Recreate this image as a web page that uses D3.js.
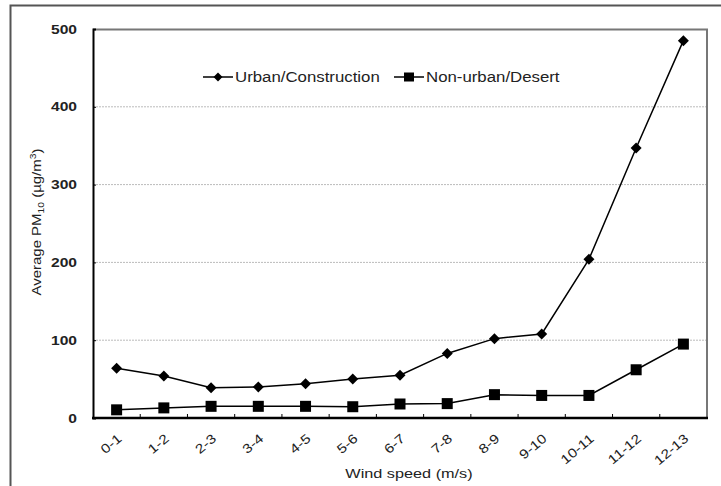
<!DOCTYPE html>
<html>
<head>
<meta charset="utf-8">
<script src="https://cdn.jsdelivr.net/npm/d3@7"></script>
<style>
  body { margin: 0; background: #fff; }
  svg { font-family: "Liberation Sans", Arial, sans-serif; }
</style>
</head>
<body>
<svg id="chart" width="721" height="486"></svg>
<script>
const categories = ['0-1', '1-2', '2-3', '3-4', '4-5', '5-6', '6-7', '7-8', '8-9', '9-10', '10-11', '11-12', '12-13'];
const urbanValues = [64, 54, 39, 40, 44, 50, 55, 83, 102, 108, 204, 347, 485];
const desertValues = [10.5, 13, 15, 15, 15, 14.5, 18, 18.5, 30, 29, 29, 62, 95];
const yTicks = [0, 100, 200, 300, 400, 500];

const svg = d3.select('#chart');
const margin = { top: 29, right: 14, bottom: 68, left: 93 };
const width = 721 - margin.left - margin.right;
const height = 486 - margin.top - margin.bottom;

// the source font is wider than Arial, stretch text a bit
const stretch = (sel, k) => sel.each(function () {
  const len = this.getComputedTextLength();
  d3.select(this).attr('textLength', len * k).attr('lengthAdjust', 'spacingAndGlyphs');
});

// outer frame (cut off at the right and bottom)
svg.append('path')
  .attr('d', 'M10.5,490 L10.5,5.5 L730,5.5')
  .attr('fill', 'none')
  .attr('stroke', '#555')
  .attr('stroke-width', 2);

const g = svg.append('g').attr('transform', `translate(${margin.left},${margin.top})`);

const x = d3.scaleBand().domain(categories).range([0, width]);
const y = d3.scaleLinear().domain([0, 500]).range([height, 0]);
const cx = d => x(d) + x.bandwidth() / 2;

// gridlines
g.selectAll('.grid').data(yTicks.filter(d => d > 0 && d < 500)).enter().append('line')
  .attr('x1', 0).attr('x2', width)
  .attr('y1', d => y(d)).attr('y2', d => y(d))
  .attr('stroke', '#bbb')
  .attr('stroke-dasharray', '2,1');

// top and right border
g.append('path')
  .attr('d', `M0,0.5 L${width},0.5 L${width},${height}`)
  .attr('fill', 'none')
  .attr('stroke', '#777')
  .attr('stroke-width', 2);

// y axis
const gy = g.append('g')
  .call(d3.axisLeft(y).tickValues(yTicks).tickSize(-3).tickPadding(16));
gy.select('.domain').attr('stroke', '#000').attr('stroke-width', 2);
gy.selectAll('.tick line').attr('stroke', '#000');
gy.selectAll('text').attr('font-size', 13).attr('font-weight', 'bold').attr('fill', '#222')
  .call(stretch, 1.2);

// x axis: ticks between categories, pointing inward
const gx = g.append('g').attr('transform', `translate(0,${height})`);
gx.append('line')
  .attr('x1', -1).attr('x2', width + 1)
  .attr('stroke', '#000').attr('stroke-width', 2.5);
gx.selectAll('.xt').data(categories.slice(1)).enter().append('line')
  .attr('x1', d => x(d)).attr('x2', d => x(d))
  .attr('y1', 0).attr('y2', -4)
  .attr('stroke', '#000');
gx.selectAll('.xl').data(categories).enter().append('text')
  .attr('transform', d => `translate(${cx(d) + 6},${22}) rotate(-40)`)
  .attr('text-anchor', 'end')
  .attr('font-size', 13)
  .attr('fill', '#222')
  .text(d => d)
  .call(stretch, 1.2);

// lines
const line = d3.line().x((d, i) => cx(categories[i])).y(d => y(d));
g.append('path').datum(urbanValues)
  .attr('d', line).attr('fill', 'none').attr('stroke', '#000').attr('stroke-width', 1.5);
g.append('path').datum(desertValues)
  .attr('d', line).attr('fill', 'none').attr('stroke', '#000').attr('stroke-width', 1.5);

const diamond = 'M0,-5.5L5.5,0L0,5.5L-5.5,0Z';
g.selectAll('.u').data(urbanValues).enter().append('path')
  .attr('d', diamond)
  .attr('transform', (d, i) => `translate(${cx(categories[i])},${y(d)})`)
  .attr('fill', '#000');
g.selectAll('.dsr').data(desertValues).enter().append('rect')
  .attr('x', (d, i) => cx(categories[i]) - 5.5)
  .attr('y', d => y(d) - 5.5)
  .attr('width', 11).attr('height', 11)
  .attr('fill', '#000');

// legend
const legend = [
  { name: 'Urban/Construction', x: 203, marker: 'diamond' },
  { name: 'Non-urban/Desert', x: 394, marker: 'square' },
];
const lg = svg.append('g');
legend.forEach(l => {
  const item = lg.append('g').attr('transform', `translate(${l.x},77)`);
  item.append('line').attr('x1', 0).attr('x2', 30).attr('stroke', '#000').attr('stroke-width', 1.5);
  if (l.marker === 'diamond') {
    item.append('path').attr('d', 'M0,-4.5L4.5,0L0,4.5L-4.5,0Z').attr('transform', 'translate(15,0)');
  } else {
    item.append('rect').attr('x', 10).attr('y', -4.5).attr('width', 10).attr('height', 9);
  }
  item.append('text').attr('x', 32).attr('y', 5)
    .attr('font-size', 14).attr('fill', '#222').text(l.name)
    .call(stretch, 1.2);
});

// axis titles
const yt = svg.append('text')
  .attr('transform', 'translate(41,222) rotate(-90)')
  .attr('text-anchor', 'middle')
  .attr('font-size', 13)
  .attr('fill', '#222');
yt.append('tspan').text('Average PM');
yt.append('tspan').attr('font-size', 9).attr('dy', 3).text('10');
yt.append('tspan').attr('dy', -3).text(' (\u00b5g/m');
yt.append('tspan').attr('font-size', 9).attr('dy', -5).text('3');
yt.append('tspan').attr('dy', 5).text(')');
yt.call(stretch, 1.15);

svg.append('text')
  .attr('x', 409).attr('y', 478)
  .attr('text-anchor', 'middle')
  .attr('font-size', 13)
  .attr('fill', '#222')
  .text('Wind speed (m/s)')
  .call(stretch, 1.25);
</script>
</body>
</html>
